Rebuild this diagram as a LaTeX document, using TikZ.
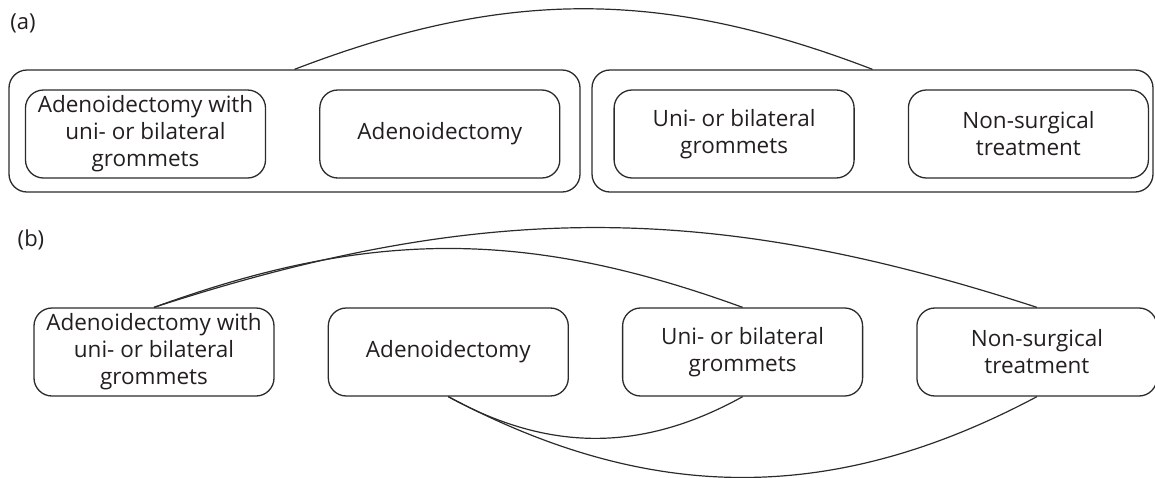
\documentclass[tikz,border=0pt]{standalone}
\usepackage{fontspec}
\setmainfont{Open Sans}
\usepackage{xcolor}
\usepackage{tikz}
\usetikzlibrary{positioning}
\definecolor{linegray}{HTML}{2B2B2B}
\definecolor{textgray}{HTML}{231F20}
\tikzset{
    treatbox/.style={
        draw=linegray,
        line width=1.3pt,
        rounded corners=18pt,
        align=center,
        font=\fontsize{22.5}{27}\selectfont,
        text=textgray,
        inner sep=2pt,
        minimum width=240pt,
        minimum height=88pt
    },
    groupbox/.style={
        draw=linegray,
        line width=1.3pt,
        rounded corners=18pt,
        inner sep=0pt
    },
    panellabel/.style={
        font=\fontsize{22}{26}\selectfont,
        text=textgray
    },
    link/.style={
        draw=linegray,
        line width=1.2pt
    }
}

\begin{document}
\begin{tikzpicture}[x=1pt, y=-1pt, node distance=53pt]
        \useasboundingbox (0,0) rectangle (1155,477);

        \node[panellabel] (labA) at (23,23) {(a)};

        \node[groupbox, minimum width=571pt, minimum height=122pt] (grpA) at (294.5,131) {};
        \node[groupbox, minimum width=561pt, minimum height=122pt] (grpB) at (872.5,131) {};

        \node[treatbox] (aBoth) at (145.5,134) {Adenoidectomy with\\uni- or bilateral\\grommets};
        \node[treatbox, right=of aBoth] (aAdeno) {Adenoidectomy};
        \node[treatbox, right=of aAdeno] (aGrom) {Uni- or bilateral\\grommets};
        \node[treatbox, right=of aGrom] (aNonSurg) {Non-surgical\\treatment};

        \draw[link] (grpA.north) to[bend left=21] (grpB.north);

        \node[panellabel] (labB) at (31,240) {(b)};

        \node[treatbox] (bBoth) at (154,352) {Adenoidectomy with\\uni- or bilateral\\grommets};
        \node[treatbox, right=of bBoth] (bAdeno) {Adenoidectomy};
        \node[treatbox, right=of bAdeno] (bGrom) {Uni- or bilateral\\grommets};
        \node[treatbox, right=of bGrom] (bNonSurg) {Non-surgical\\treatment};

        \draw[link] (bBoth.north) to[bend left=18] (bNonSurg.north);
        \draw[link] (bBoth.north) to[bend left=20] (bGrom.north);
        \draw[link] (bAdeno.south) to[bend right=29] (bGrom.south);
        \draw[link] (bAdeno.south) to[bend right=28] (bNonSurg.south);
    \end{tikzpicture}
\end{document}
